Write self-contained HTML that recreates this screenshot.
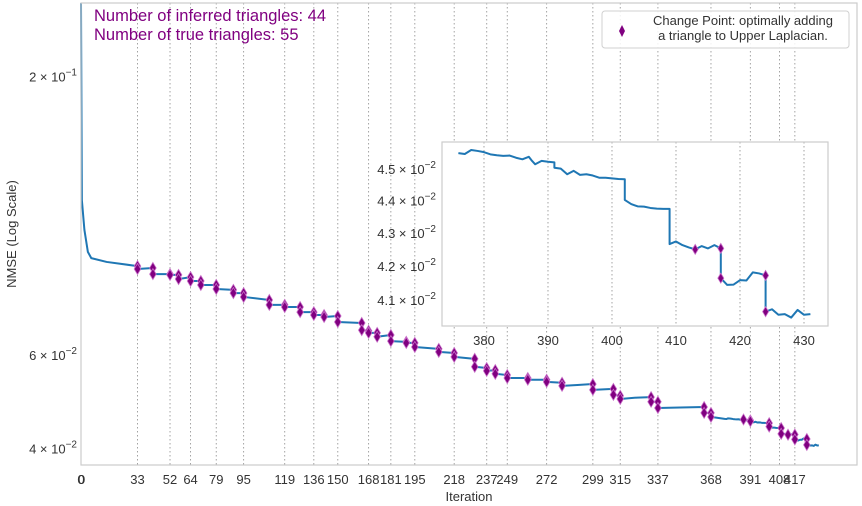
<!DOCTYPE html>
<html><head><meta charset="utf-8">
<style>
html,body{margin:0;padding:0;background:#fff;}
svg{display:block;font-family:"Liberation Sans",Arial,sans-serif;}
</style></head>
<body>
<svg id="chart" width="862" height="506" viewBox="0 0 862 506" xmlns="http://www.w3.org/2000/svg">
  <rect x="0" y="0" width="862" height="506" fill="#fff"/>
  <g id="main-grid"></g>
  <g id="main-series"></g>
  <g id="main-markers"></g>
  <rect x="81" y="3" width="776" height="462" fill="none" stroke="#cccccc" stroke-width="1.2"/>
  <g id="main-xticks" font-size="13" fill="#333" text-anchor="middle"></g>
  <g id="main-yticks" font-size="13" fill="#333" text-anchor="end"></g>
  <text x="469" y="501" font-size="13" fill="#333" text-anchor="middle">Iteration</text>
  <text transform="translate(16,234) rotate(-90)" font-size="13" fill="#333" text-anchor="middle">NMSE (Log Scale)</text>
  <text x="94" y="21" font-size="16.5" fill="#800080">Number of inferred triangles: 44</text>
  <text x="94" y="40" font-size="16.5" fill="#800080">Number of true triangles: 55</text>
  <g>
    <rect x="602" y="11" width="247" height="37" rx="3" fill="#fff" fill-opacity="0.85" stroke="#d0d0d0"/>
    <path d="M622,25 L625,31 L622,37 L619,31 Z" fill="#800080"/>
    <text x="743" y="25" font-size="13" fill="#333" text-anchor="middle">Change Point: optimally adding</text>
    <text x="743" y="40" font-size="13" fill="#333" text-anchor="middle">a triangle to Upper Laplacian.</text>
  </g>
  <g>
    <rect x="442" y="142" width="386" height="184" fill="#fff"/>
    <g id="inset-grid"></g>
    <g id="inset-series"></g>
    <g id="inset-markers"></g>
    <rect x="442" y="142" width="386" height="184" fill="none" stroke="#cccccc" stroke-width="1.2"/>
    <g id="inset-xticks" font-size="13" fill="#333" text-anchor="middle"></g>
    <g id="inset-yticks" font-size="13" fill="#333" text-anchor="end"></g>
  </g>
</svg>
<script>
const iters = [0,0.5,2,4,6,15,33,33,42,42,52,52,57,57,64,64,70,70,79,79,89,89,95,95,110,110,119,119,128,128,136,136,142,142,150,150,164,164,168,168,173,173,181,181,190,190,195,195,209,209,218,218,230,230,237,237,242,242,249,249,261,261,272,272,281,281,290,299,299,311,311,315,315,325,333,333,337,337,350,364,364,368,368,
376,377,378,379,380,381,382,383,384,385,386,387,387.5,388,389,390,391,391,392,393,394,395,396,397,398,399,400,401,402,402,403,404,405,406,407,408,409,409,410,411,412,413,414,415,416,417,417,418,419,420,421,422,423,424,424,425,426,427,428,429,430,431];
const nmse = [0.2745,0.1172,0.1030,0.0937,0.0912,0.0897,0.0881,0.0870,0.0874,0.0851,0.0851,0.0848,0.0848,0.0833,0.0840,0.0826,0.0826,0.0812,0.0812,0.0798,0.0795,0.0784,0.0784,0.0771,0.0761,0.0745,0.0745,0.0738,0.0738,0.0722,0.0722,0.0713,0.0713,0.0707,0.0710,0.0692,0.0689,0.0668,0.0666,0.0660,0.0660,0.0649,0.0654,0.0637,0.0635,0.0632,0.0632,0.0621,0.0616,0.0608,0.0605,0.0595,0.0590,0.0570,0.0567,0.0560,0.0562,0.0553,0.0550,0.0543,0.0543,0.0539,0.0539,0.0534,0.0532,0.0525,0.0527,0.0529,0.0516,0.0518,0.0505,0.0503,0.0496,0.0499,0.0500,0.0490,0.0490,0.0477,0.0478,0.0479,0.0467,0.0467,0.0459,
0.04551,0.04548,0.04561,0.04558,0.04554,0.04547,0.04544,0.04542,0.04543,0.04536,0.04531,0.04539,0.04526,0.04515,0.04526,0.04523,0.04521,0.04504,0.04501,0.04483,0.04494,0.04481,0.04483,0.04479,0.04472,0.04472,0.04470,0.04468,0.04467,0.04402,0.04389,0.04382,0.04381,0.04377,0.04375,0.04374,0.04374,0.04266,0.04274,0.04263,0.04256,0.04250,0.04260,0.04253,0.04263,0.04253,0.04164,0.04144,0.04145,0.04158,0.04157,0.04181,0.04178,0.04172,0.04066,0.04073,0.04057,0.04059,0.04049,0.04071,0.04057,0.04059];
const changePoints = [33,42,52,57,64,70,79,89,95,110,119,128,136,142,150,164,168,173,181,190,195,209,218,230,237,242,249,261,272,281,299,311,315,333,337,364,368,387,391,402,409,413,417,424];
const xTickLabels = [0,0,33,52,64,79,95,119,136,150,168,181,195,218,237,249,272,299,315,337,368,391,408,417];
const yTickValues = [0.2,0.06,0.04];
const yTickMantissa = ["2","6","4"];
const yTickExp = ["\u22121","\u22122","\u22122"];
const insetXTicks = [380,390,400,410,420,430];
const insetYTicks = [0.045,0.044,0.043,0.042,0.041];
const insetYMantissa = ["4.5","4.4","4.3","4.2","4.1"];
const insetMarkerIters = [413,417,424];

const NS="http://www.w3.org/2000/svg";
function mk(tag, attrs, parent){const e=document.createElementNS(NS,tag);for(const k in attrs)e.setAttribute(k,attrs[k]);parent.appendChild(e);return e;}
const M={x0:81,x1:857,y0:3,y1:465,xmin:0,xmax:453.3,ymin:0.03728,ymax:0.2748};
function mx(v){return M.x0+(v-M.xmin)/(M.xmax-M.xmin)*(M.x1-M.x0);}
function my(v){return M.y1-(Math.log10(v)-Math.log10(M.ymin))/(Math.log10(M.ymax)-Math.log10(M.ymin))*(M.y1-M.y0);}
const I={x0:442,x1:828,y0:142,y1:326,xmin:373.44,xmax:433.75,ymin:0.040248,ymax:0.04587};
function ix(v){return I.x0+(v-I.xmin)/(I.xmax-I.xmin)*(I.x1-I.x0);}
function iy(v){return I.y1-(Math.log10(v)-Math.log10(I.ymin))/(Math.log10(I.ymax)-Math.log10(I.ymin))*(I.y1-I.y0);}
function diamond(cx,cy,parent,name,w,h){
  const p=mk('path',{d:`M${cx},${cy-h} L${cx+w},${cy} L${cx},${cy+h} L${cx-w},${cy} Z`,fill:'#800080',stroke:'#c86ec8','stroke-width':0.8},parent);
  
  
}
function valuesAt(it){const r=[];for(let i=0;i<iters.length;i++)if(iters[i]===it)r.push(nmse[i]);
  if(!r.length){for(let i=1;i<iters.length;i++)if(iters[i-1]<=it&&iters[i]>=it){const t=(it-iters[i-1])/(iters[i]-iters[i-1]);r.push(nmse[i-1]+t*(nmse[i]-nmse[i-1]));break;}}
  return r;}

const g=document.getElementById('main-grid'), xt=document.getElementById('main-xticks');
xTickLabels.forEach((t,k)=>{
  const l=mk('line',{x1:mx(t),x2:mx(t),y1:M.y0,y2:M.y1,stroke:'#999','stroke-width':0.9,'stroke-dasharray':'1.5,2.5'},g);
  
  
  const tx=mk('text',{x:mx(t)+(k===1?0.6:0),y:484},xt);
  tx.textContent=t;
  
  
});
const yt=document.getElementById('main-yticks');
yTickValues.forEach((v,k)=>{
  const tx=mk('text',{x:77,y:my(v)+5},yt);
  
  
  const a=mk('tspan',{},tx);a.textContent=yTickMantissa[k]+" \u00d7 10";
  const b=mk('tspan',{'font-size':10,dy:-6},tx);b.textContent=yTickExp[k];
});
let d='';iters.forEach((it,i)=>{d+=(i?'L':'M')+mx(it).toFixed(2)+','+my(nmse[i]).toFixed(2);});
const ml=mk('path',{d:d,fill:'none',stroke:'#1f77b4','stroke-width':2,'stroke-linejoin':'round'},document.getElementById('main-series'));


const mm=document.getElementById('main-markers');
changePoints.forEach(cp=>{valuesAt(cp).forEach(v=>diamond(mx(cp),my(v),mm,'change-point-'+cp,3.3,5.5));});

const ig=document.getElementById('inset-grid'), ixt=document.getElementById('inset-xticks');
insetXTicks.forEach(t=>{
  const l=mk('line',{x1:ix(t),x2:ix(t),y1:I.y0,y2:I.y1,stroke:'#999','stroke-width':0.9,'stroke-dasharray':'1.5,2.5'},ig);
  
  
  const tx=mk('text',{x:ix(t),y:345},ixt);tx.textContent=t;
  
  
});
const iyt=document.getElementById('inset-yticks');
insetYTicks.forEach((v,k)=>{
  const tx=mk('text',{x:436,y:iy(v)+5},iyt);
  
  
  const a=mk('tspan',{},tx);a.textContent=insetYMantissa[k]+" \u00d7 10";
  const b=mk('tspan',{'font-size':10,dy:-6},tx);b.textContent="\u22122";
});
let di='';let first=true;
iters.forEach((it,i)=>{if(it>=I.xmin&&it<=I.xmax){di+=(first?'M':'L')+ix(it).toFixed(2)+','+iy(nmse[i]).toFixed(2);first=false;}});
const il=mk('path',{d:di,fill:'none',stroke:'#1f77b4','stroke-width':2,'stroke-linejoin':'round'},document.getElementById('inset-series'));


const im=document.getElementById('inset-markers');
insetMarkerIters.forEach(cp=>{valuesAt(cp).forEach(v=>diamond(ix(cp),iy(v),im,'inset-change-point-'+cp,3,5));});
</script>
</body></html>
